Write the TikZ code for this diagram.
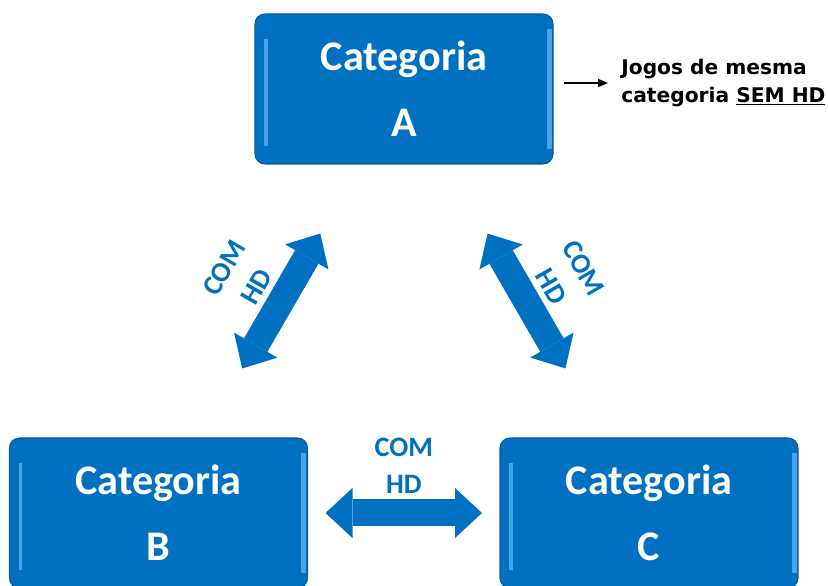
\documentclass[tikz,border=0pt]{standalone}
\usepackage{fontspec}
\setmainfont{Carlito}
\newfontfamily\notafont{DejaVu Sans}
\usetikzlibrary{positioning, arrows.meta}
\definecolor{CategoriaAzul}{HTML}{0070C0}
\definecolor{CategoriaBrilho}{HTML}{5AB2F0}
\definecolor{CategoriaBorda}{HTML}{0A5A9C}

\begin{document}
\begin{tikzpicture}[
    catbox/.style={draw=CategoriaBorda, line width=0.6pt, fill=CategoriaAzul,
        rounded corners=0.2cm, minimum width=5.96cm, minimum height=3cm,
        text=white, align=center, font=\bfseries\fontsize{24}{37.5}\selectfont,
        path picture={
            \draw[CategoriaBrilho, line width=0.07cm, opacity=0.8]
                ([xshift=0.22cm,yshift=-0.5cm]path picture bounding box.north west) --
                ([xshift=0.22cm,yshift=0.35cm]path picture bounding box.south west);
            \draw[CategoriaBrilho, line width=0.1cm, opacity=0.8]
                ([xshift=-0.08cm,yshift=-0.3cm]path picture bounding box.north east) --
                ([xshift=-0.08cm,yshift=0.3cm]path picture bounding box.south east);
        }},
    hdarrow/.style={CategoriaAzul, line width=0.54cm,
        {Triangle[length=0.54cm, width=1cm, line width=0pt]}-{Triangle[length=0.54cm, width=1cm, line width=0pt]},
        shorten <=3.34cm, shorten >=3.34cm},
    hdlabel/.style={midway, sloped, above=3.6pt, inner sep=0pt, text=CategoriaAzul,
        align=center, font=\bfseries\fontsize{16}{21}\selectfont},
    notaseta/.style={line width=0.9pt, -{Triangle[length=0.2cm, width=0.16cm]}}
]
    \useasboundingbox (0,0) rectangle (16.56,11.72);

    % Categorias
    \node[catbox] (catA) at (8.08, 9.94) {Categoria\\A};
    \node[catbox] (catB) at (3.17, 1.46) {Categoria\\B};
    \node[catbox] (catC) at (12.98, 1.46) {Categoria\\C};

    % Nota
    \node[anchor=west, inner sep=0pt, align=left,
          font=\notafont\bfseries\fontsize{11.5}{15.4}\selectfont]
          (nota) at (12.42, 10.06) {Jogos de mesma\\categoria \underline{SEM HD}};
    \draw[notaseta, shorten >=0.26cm] ([xshift=0.2cm]catA.east |- nota.west) -- (nota.west);

    % Setas COM HD
    \draw[hdarrow] (catA.center) -- (catB.center) node[hdlabel] {COM\\HD};
    \draw[hdarrow] (catA.center) -- (catC.center) node[hdlabel] {COM\\HD};
    \draw[hdarrow] (catB.center) -- (catC.center) node[hdlabel] {COM\\HD};
\end{tikzpicture}
\end{document}
